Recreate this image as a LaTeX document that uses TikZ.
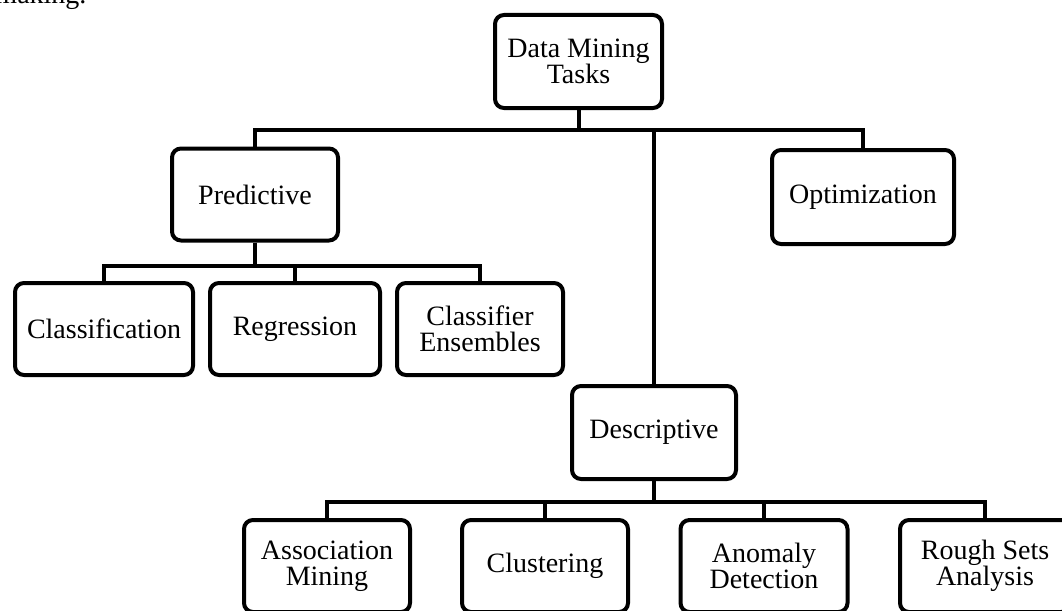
\documentclass[tikz,border=0pt]{standalone}
\usepackage{fontspec}
\setmainfont{Liberation Serif}

\begin{document}
\begin{tikzpicture}[x=1pt,y=-1pt,
  taskbox/.style={shape=rectangle,draw,line width=4pt,rounded corners=9pt,inner sep=0pt,align=center,minimum height=92pt,font=\fontsize{28}{25.5}\selectfont},
  wire/.style={line width=4pt}]
\useasboundingbox (0,0) rectangle (1062,610);
\node[anchor=base east,font=\fontsize{28}{25.5}\selectfont] (lead) at (90,4) {making.};

\node[taskbox,minimum width=167pt,minimum height=93pt] (dmt) at (578.5,61.5) {Data Mining\\Tasks};
\node[taskbox,minimum width=166pt] (pred) at (255,194.5) {Predictive};
\node[taskbox,minimum width=182pt,minimum height=94pt] (opt) at (863,197) {Optimization};
\node[taskbox,minimum width=164pt,minimum height=93pt] (desc) at (654,432.5) {Descriptive};

\node[taskbox,minimum width=178pt] (class) at (104,329) {Classification};
\node[taskbox,minimum width=170pt] (regr) at (295,329) {Regression};
\node[taskbox,minimum width=166pt] (ens) at (480,329) {Classifier\\Ensembles};

\node[taskbox,minimum width=166pt] (assoc) at (327,566) {Association\\Mining};
\node[taskbox,minimum width=166pt] (clus) at (545,566) {Clustering};
\node[taskbox,minimum width=167pt] (anom) at (764,566) {Anomaly\\Detection};
\node[taskbox,minimum width=170pt] (rough) at (985,566) {Rough Sets\\Analysis};

% top level
\draw[wire] (dmt.south) -- ++(0,20) -| (pred.north);
\draw[wire] (dmt.south) -- ++(0,20) -| (desc.north);
\draw[wire] (dmt.south) -- ++(0,20) -| (opt.north);

% predictive branch
\draw[wire] (pred.south) -- ++(0,23) -| (class.north);
\draw[wire] (pred.south) -- ++(0,23) -| (regr.north);
\draw[wire] (pred.south) -- ++(0,23) -| (ens.north);

% descriptive branch
\draw[wire] (desc.south) -- ++(0,21) -| (assoc.north);
\draw[wire] (desc.south) -- ++(0,21) -| (clus.north);
\draw[wire] (desc.south) -- ++(0,21) -| (anom.north);
\draw[wire] (desc.south) -- ++(0,21) -| (rough.north);
\end{tikzpicture}
\end{document}
